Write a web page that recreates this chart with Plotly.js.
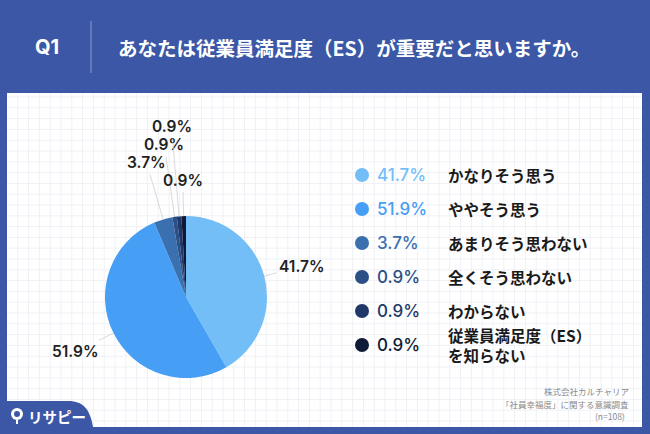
<!DOCTYPE html>
<html>
<head>
<meta charset="utf-8">
<script src="https://cdn.plot.ly/plotly-3.0.1.min.js"></script>
<style>
  html, body { margin: 0; padding: 0; background: #3B57A6; }
  #chart { width: 650px; height: 434px; }
</style>
</head>
<body>
<div id="chart"></div>
<script>
// ---- data ----
const categories = ['かなりそう思う', 'ややそう思う', 'あまりそう思わない', '全くそう思わない', 'わからない', '従業員満足度（ES）<br>を知らない'];
const values = [41.7, 51.9, 3.7, 0.9, 0.9, 0.9];
const colors = ['#74BEF8', '#479EF5', '#3A6FB0', '#2C4F86', '#1F3868', '#0E1A38'];
const titleText = 'あなたは従業員満足度（ES）が重要だと思いますか。';
const questionNo = 'Q1';
const sourceLines = ['株式会社カルチャリア', '「社員幸福度」に関する意識調査', '(n=108)'];
const logoText = 'リサピー';

// ---- layout constants ----
const W = 650, H = 434;
const CX = 186, CY = 297, R = 81;
const labelDist = [120, 123, 140, 154, 171, 117];
const BLUE = '#3B57A6';
const JP = '"Noto Sans CJK JP", "Noto Sans", sans-serif';
const NUM = 'Inter, "Noto Sans", sans-serif';

const px = x => x / W;
const py = y => 1 - y / H;

const shapes = [];
// white panel
shapes.push({type: 'rect', xref: 'paper', yref: 'paper', x0: px(7), x1: px(642), y0: py(427), y1: py(93),
  fillcolor: '#ffffff', line: {width: 0}, layer: 'below'});
// grid
const step = 10.8;
for (let x = 7 + step; x < 642; x += step) {
  shapes.push({type: 'line', xref: 'paper', yref: 'paper', x0: px(x), x1: px(x), y0: py(427), y1: py(93),
    line: {color: '#eff1f5', width: 1}, layer: 'below'});
}
for (let y = 97; y < 427; y += step) {
  shapes.push({type: 'line', xref: 'paper', yref: 'paper', x0: px(7), x1: px(642), y0: py(y), y1: py(y),
    line: {color: '#eff1f5', width: 1}, layer: 'below'});
}
// header divider
shapes.push({type: 'line', xref: 'paper', yref: 'paper', x0: px(91), x1: px(91), y0: py(21), y1: py(73),
  line: {color: '#8C9DD2', width: 1}});
// logo tab (bottom-left)
shapes.push({type: 'path', xref: 'paper', yref: 'paper',
  path: `M ${px(0)} ${py(401)} L ${px(68)} ${py(401)} C ${px(84)} ${py(401)} ${px(90)} ${py(410)} ${px(93)} ${py(427)} L ${px(93)} ${py(434)} L ${px(0)} ${py(434)} Z`,
  fillcolor: BLUE, line: {width: 0}});
// logo pin icon
shapes.push({type: 'circle', xref: 'paper', yref: 'paper', x0: px(11), x1: px(23), y0: py(420), y1: py(408),
  fillcolor: '#ffffff', line: {width: 0}});
shapes.push({type: 'circle', xref: 'paper', yref: 'paper', x0: px(14), x1: px(20), y0: py(417), y1: py(411),
  fillcolor: BLUE, line: {width: 0}});
shapes.push({type: 'line', xref: 'paper', yref: 'paper', x0: px(17), x1: px(17), y0: py(420), y1: py(424),
  line: {color: '#ffffff', width: 2}});

const annotations = [];
// header
annotations.push({xref: 'paper', yref: 'paper', x: px(33), y: py(47), xanchor: 'left', yanchor: 'middle',
  text: '<b>' + questionNo + '</b>', showarrow: false, font: {family: NUM, size: 20, color: '#ffffff'}});
annotations.push({xref: 'paper', yref: 'paper', x: px(116), y: py(47), xanchor: 'left', yanchor: 'middle',
  text: '<b>' + titleText + '</b>', showarrow: false, font: {family: JP, size: 19.5, color: '#ffffff'}});

// pie outside labels with leader lines
let cum = 0;
values.forEach((v, i) => {
  const mid = (cum + v / 2) / 100;
  cum += v;
  const th = (90 - mid * 360) * Math.PI / 180;
  const ex = CX + R * Math.cos(th), ey = CY - R * Math.sin(th);
  const d = labelDist[i] - R;
  annotations.push({xref: 'paper', yref: 'paper', x: px(ex), y: py(ey),
    ax: d * Math.cos(th), ay: -d * Math.sin(th),
    text: v.toFixed(1) + '%', showarrow: true, arrowhead: 0, arrowwidth: 0.7, arrowcolor: '#c9c9c9',
    standoff: 0, startstandoff: 1,
    font: {family: NUM, size: 15.5, color: '#222222', weight: 600}});
});

// custom legend
const rowY0 = 175, rowStep = 34;
categories.forEach((c, i) => {
  const y = rowY0 + i * rowStep;
  shapes.push({type: 'circle', xref: 'paper', yref: 'paper', x0: px(355), x1: px(369), y0: py(y + 7), y1: py(y - 7),
    fillcolor: colors[i], line: {width: 0}});
  annotations.push({xref: 'paper', yref: 'paper', x: px(375), y: py(y), xanchor: 'left', yanchor: 'middle',
    text: values[i].toFixed(1) + '%', showarrow: false,
    font: {family: NUM, size: 17, color: colors[i], weight: 500}});
  annotations.push({xref: 'paper', yref: 'paper', x: px(446), y: py(y), xanchor: 'left', yanchor: 'middle',
    align: 'left', text: '<b>' + c.split('<br>').join('</b><br><b>') + '</b>', showarrow: false,
    font: {family: JP, size: 15.5, color: '#1a1a1a'}});
});

// source note
sourceLines.forEach((s, i) => {
  annotations.push({xref: 'paper', yref: 'paper', x: px(631 - (i === 2 ? 4 : 0)), y: py(391 + i * 12.5),
    xanchor: 'right', yanchor: 'middle', text: s, showarrow: false,
    font: {family: JP, size: 8.5, color: '#8a8a8a'}});
});
// logo text
annotations.push({xref: 'paper', yref: 'paper', x: px(26), y: py(416), xanchor: 'left', yanchor: 'middle',
  text: '<b>' + logoText + '</b>', showarrow: false, font: {family: JP, size: 14.5, color: '#ffffff'}});

const trace = {
  type: 'pie',
  labels: categories,
  values: values,
  sort: false,
  direction: 'clockwise',
  rotation: 0,
  marker: {colors: colors, line: {width: 0}},
  textinfo: 'none',
  hoverinfo: 'skip',
  showlegend: false,
  domain: {x: [px(CX - R), px(CX + R)], y: [py(CY + R), py(CY - R)]}
};

const layout = {
  width: W, height: H,
  margin: {l: 0, r: 0, t: 0, b: 0},
  paper_bgcolor: BLUE,
  plot_bgcolor: BLUE,
  showlegend: false,
  shapes: shapes,
  annotations: annotations
};

Plotly.newPlot('chart', [trace], layout, {staticPlot: true, displayModeBar: false});
</script>
</body>
</html>
